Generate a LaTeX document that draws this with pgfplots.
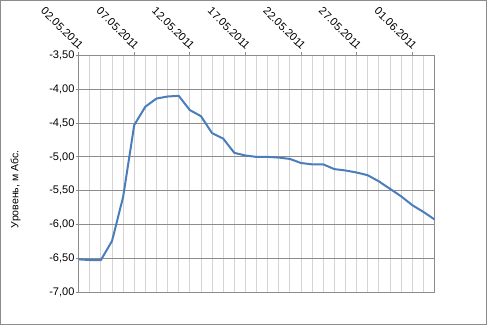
\documentclass[border=0pt]{standalone}
\usepackage{fontspec}
\setmainfont{Liberation Sans}
\usepackage{pgfplots}
\pgfplotsset{compat=1.18}
\definecolor{lineblue}{HTML}{4A7EBB}
\definecolor{axgray}{HTML}{8C8C8C}
\definecolor{mingray}{HTML}{D4D4D4}
\pgfplotstableread{
x y
0 -6.51
1 -6.52
2 -6.52
3 -6.24
4 -5.59
5 -4.53
6 -4.26
7 -4.14
8 -4.11
9 -4.10
10 -4.31
11 -4.40
12 -4.65
13 -4.73
14 -4.94
15 -4.98
16 -5.00
17 -5.00
18 -5.01
19 -5.03
20 -5.09
21 -5.11
22 -5.11
23 -5.18
24 -5.20
25 -5.23
26 -5.27
27 -5.36
28 -5.47
29 -5.58
30 -5.71
31 -5.81
32 -5.92
}\levels
\begin{document}
\fontsize{11}{13}\selectfont
\begin{tikzpicture}
\begin{axis}[
 scale only axis, width=355pt, height=237pt,
 clip=false,
 xmin=0, xmax=32, ymin=-7, ymax=-3.5,
 xtick={0,5,...,30},
 xticklabels={02.05.2011,07.05.2011,12.05.2011,17.05.2011,22.05.2011,27.05.2011,01.06.2011},
 minor xtick={0,...,32},
 xtick pos=right, xticklabel pos=right,
 xticklabel style={rotate=-45, anchor=south east, inner sep=1pt, font=\fontsize{11}{13}\selectfont},
 ytick={-7,-6.5,-6,-5.5,-5,-4.5,-4,-3.5},
 ytick pos=left,
 yticklabel style={font=\fontsize{11}{13}\selectfont, inner sep=1pt},
 /pgf/number format/.cd, fixed, fixed zerofill, precision=2, use comma, assume math mode=true, /pgfplots/.cd,
 xmajorgrids, xminorgrids, ymajorgrids,
 major x grid style={mingray, line width=0.8pt},
 minor x grid style={mingray, line width=0.8pt},
 major y grid style={axgray, line width=0.9pt},
 axis line style={axgray, line width=0.9pt},
 tick style={axgray, line width=0.9pt},
 tick align=outside,
 major tick length=3pt,
 minor tick length=0pt,
 ylabel={Уровень, м Абс.},
 every axis y label/.style={at={(rel axis cs:0,0.435)}, xshift=-54pt, rotate=90, anchor=south, font=\fontsize{10.5}{12}\selectfont},
]
\addplot[lineblue, line width=2pt, line join=round, mark=none] table[x=x, y=y] {\levels};
\draw[axgray, line width=1pt] ([xshift=-78pt,yshift=-32pt]rel axis cs:0,0) rectangle ([xshift=52pt,yshift=54.5pt]rel axis cs:1,1);
\end{axis}
\end{tikzpicture}
\end{document}
